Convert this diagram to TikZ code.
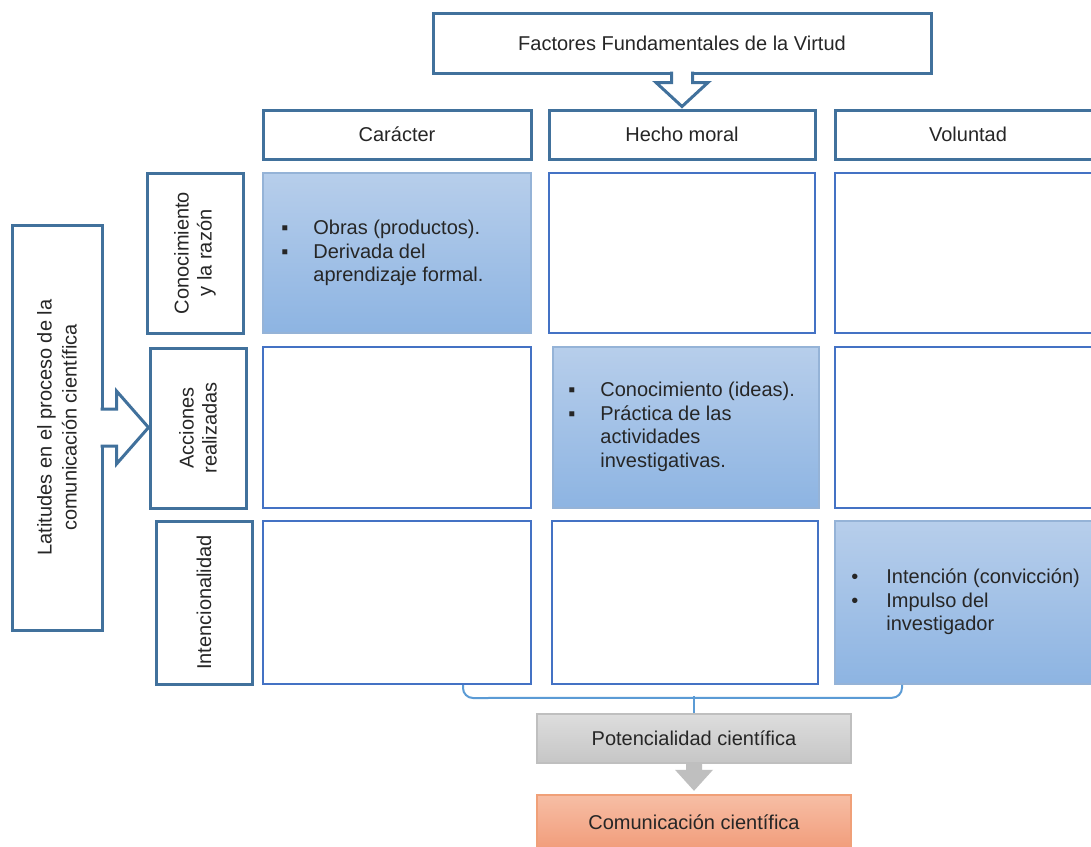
\documentclass[tikz,border=0pt]{standalone}
\usepackage{fontspec}
\setmainfont{Liberation Sans}
\usepackage{tikz}
\usetikzlibrary{positioning,calc}
\definecolor{headblue}{RGB}{65,113,156}
\definecolor{cellblue}{RGB}{68,114,196}
\definecolor{celltop}{RGB}{183,206,235}
\definecolor{cellbottom}{RGB}{141,180,226}
\definecolor{celledge}{RGB}{149,179,215}
\definecolor{bracket}{RGB}{91,155,213}
\definecolor{graytop}{RGB}{221,221,221}
\definecolor{graybottom}{RGB}{198,198,198}
\definecolor{grayedge}{RGB}{191,191,191}
\definecolor{salmontop}{RGB}{247,190,165}
\definecolor{salmonbottom}{RGB}{241,156,122}
\definecolor{salmonedge}{RGB}{240,160,120}
\definecolor{ink}{RGB}{38,38,38}
\tikzset{
    head/.style={draw=headblue, fill=white, line width=1.5pt, inner sep=0pt, align=center, font=\fontsize{10}{12}\selectfont, text=ink},
    side/.style={head, rotate=90},
    cell/.style={draw=cellblue, fill=white, line width=1pt, inner sep=0pt},
    filled/.style={draw=celledge, top color=celltop, bottom color=cellbottom, line width=0.8pt, inner sep=0pt},
    items/.style={align=left, inner sep=0pt, anchor=west, font=\fontsize{10}{11.75}\selectfont, text=ink},
    bigarrow/.style={draw=headblue, fill=white, line width=1.5pt},
    brace/.style={draw=bracket, line width=1pt, rounded corners=5pt},
    result/.style={draw=grayedge, top color=graytop, bottom color=graybottom, line width=0.8pt, inner sep=0pt, font=\fontsize{10}{12}\selectfont, text=ink},
    final/.style={draw=salmonedge, top color=salmontop, bottom color=salmonbottom, line width=0.8pt, inner sep=0pt, font=\fontsize{10}{12}\selectfont, text=ink},
    downarrow/.style={fill=grayedge, draw=none}
}
\newcommand{\sq}{\makebox[16pt][l]{▪}}
\newcommand{\rd}{\makebox[17.5pt][l]{•}}

\begin{document}
\begin{tikzpicture}[x=0.5pt,y=-0.5pt]
\useasboundingbox (0,0) rectangle (1091,846);
\fill[white] (0,0) rectangle (1091,846);
\clip (0,0) rectangle (1091,846);
\node[head, minimum width=249pt, minimum height=30pt] (virtud) at (682,43) {Factores Fundamentales de la Virtud};
\node[head, minimum width=134pt, minimum height=24.5pt] (caracter) at (397,134.5) {Carácter};
\node[head, minimum width=133pt, minimum height=24.5pt] (hecho) at (682,134.5) {Hecho moral};
\node[head, minimum width=133pt, minimum height=24.5pt] (voluntad) at (968,134.5) {Voluntad};
\node[side, minimum width=80pt, minimum height=48pt, font=\fontsize{10}{11.5}\selectfont] (conoc) at (195,253) {Conocimiento\\y la razón};
\node[side, minimum width=80pt, minimum height=48pt, font=\fontsize{10}{11.5}\selectfont] (acc) at (198,428) {Acciones\\realizadas};
\node[side, minimum width=81.5pt, minimum height=48pt] (intenc) at (204,602.5) {Intencionalidad};
\node[side, minimum width=202.5pt, minimum height=45pt, font=\fontsize{10}{12.5}\selectfont] (lat) at (57,427.5) {Latitudes en el proceso de la\\comunicación científica};
\node[filled, minimum width=134pt, minimum height=80pt] (c11) at (397,253) {};
\node[cell, minimum width=133pt, minimum height=80pt] (c12) at (682,253) {};
\node[cell, minimum width=133pt, minimum height=80pt] (c13) at (968,253) {};
\node[cell, minimum width=134pt, minimum height=80.5pt] (c21) at (397,427.5) {};
\node[filled, minimum width=133pt, minimum height=80.5pt] (c22) at (686,427.5) {};
\node[cell, minimum width=133pt, minimum height=80.5pt] (c23) at (968,427.5) {};
\node[cell, minimum width=134pt, minimum height=81.5pt] (c31) at (397,602.5) {};
\node[cell, minimum width=133pt, minimum height=81.5pt] (c32) at (685,602.5) {};
\node[filled, minimum width=133pt, minimum height=81.5pt] (c33) at (968,602.5) {};
\node[items] (obras) at (281,253) {\sq Obras (productos).\\\sq Derivada del\\\hspace*{16pt}aprendizaje formal.};
\node[items] (ideas) at (568,427) {\sq Conocimiento (ideas).\\\sq Práctica de las\\\hspace*{16pt}actividades\\\hspace*{16pt}investigativas.};
\node[items] (impulso) at (851,602) {\rd Intención (convicción)\\\rd Impulso del\\\hspace*{17.5pt}investigador};
\node[result, minimum width=157pt, minimum height=24.5pt] (pot) at (694,738.5) {Potencialidad científica};
\node[final, minimum width=157pt, minimum height=27.5pt] (com) at (694,822.5) {Comunicación científica};
\fill[white] ($(virtud.south)+(-10.5,-5)$) rectangle ($(virtud.south)+(10.5,8)$);
\draw[bigarrow] ($(virtud.south)+(-10.5,-3)$) -- ++(0,11) -- ++(-15.5,0) -- ($(virtud.south)+(0,32)$) -- ($(virtud.south)+(26,8)$) -- ++(-15.5,0) -- ($(virtud.south)+(10.5,-3)$);
\coordinate (latarrow) at (lat.south);
\fill[white] ($(latarrow)+(-5,-18.5)$) rectangle ($(latarrow)+(13,18.5)$);
\draw[bigarrow] ($(latarrow)+(-3,-18.5)$) -- ++(16,0) -- ++(0,-18) -- (acc.north |- latarrow) -- ($(latarrow)+(13,36.5)$) -- ++(0,-18) -- ($(latarrow)+(-3,18.5)$);
\draw[brace] ($(c31.south)+(66,0)$) -- ++(0,13) -- ($(c33.south)+(-66,13)$) -- ++(0,-13);
\draw[brace] (pot.north) -- ++(0,-17);
\fill[downarrow] ($(pot.south)+(-8,0)$) -- ++(0,6) -- ++(-11,0) -- ($(pot.south)+(0,27)$) -- ($(pot.south)+(19,6)$) -- ++(-11,0) -- ++(0,-6) -- cycle;
\end{tikzpicture}
\end{document}
